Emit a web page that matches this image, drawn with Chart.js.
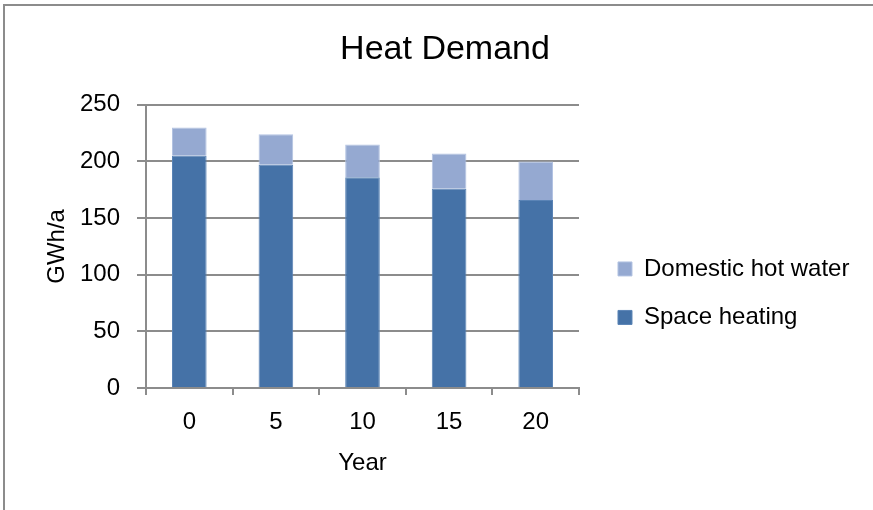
<!DOCTYPE html>
<html>
<head>
<meta charset="utf-8">
<script src="https://cdn.jsdelivr.net/npm/chart.js@4/dist/chart.umd.min.js"></script>
<style>
  html, body { margin: 0; padding: 0; background: #fff; }
  #wrap { position: relative; width: 873px; height: 510px; overflow: hidden; }
  #frame { position: absolute; left: 3px; top: 4px; width: 900px; height: 600px;
           border-left: 2px solid #8c8c8c; border-top: 2px solid #8c8c8c; }
  #c { position: absolute; left: 0; top: 0; }
</style>
</head>
<body>
<div id="wrap">
  <div id="frame"></div>
  <canvas id="c" width="873" height="510"></canvas>
</div>
<script>
// Heat demand by year (GWh/a)
const years = ['0', '5', '10', '15', '20'];
const spaceHeating = [205, 197, 186, 176, 166];
const hotWater = [25, 27, 29, 31, 34];
const yTicks = [0, 50, 100, 150, 200, 250];

const FONT = "'Liberation Sans', Arial, sans-serif";
const GRID = '#8c8c8c';

new Chart(document.getElementById('c'), {
  type: 'bar',
  data: {
    labels: years,
    datasets: [
      {
        label: 'Space heating',
        data: spaceHeating,
        backgroundColor: '#4572a7',
        borderColor: '#5b84b6',
        borderWidth: 1,
        barPercentage: 0.4,
        categoryPercentage: 1
      },
      {
        label: 'Domestic hot water',
        data: hotWater,
        backgroundColor: '#95a9d1',
        borderColor: '#b3c3e2',
        borderWidth: 1,
        barPercentage: 0.4,
        categoryPercentage: 1
      }
    ]
  },
  options: {
    responsive: false,
    animation: false,
    events: [],
    layout: { padding: { left: 30.6, right: 13.6, top: 0, bottom: 0 } },
    plugins: {
      title: {
        display: true,
        text: 'Heat Demand',
        color: '#000',
        font: { family: FONT, size: 34, weight: 'normal' },
        padding: { top: 29, bottom: 35 }
      },
      legend: {
        position: 'right',
        reverse: true,
        maxWidth: 400,
        title: { display: true, text: '', padding: { top: 62, bottom: 0 } },
        labels: {
          boxWidth: 14,
          boxHeight: 14,
          padding: 24.5,
          color: '#000',
          font: { family: FONT, size: 24 }
        }
      },
      tooltip: { enabled: false }
    },
    scales: {
      x: {
        stacked: true,
        grid: { display: true, drawOnChartArea: false, drawTicks: true, tickLength: 7, color: GRID, lineWidth: 2 },
        border: { display: true, color: GRID, width: 2 },
        ticks: { color: '#000', font: { family: FONT, size: 24 }, padding: 13 },
        title: { display: true, text: 'Year', color: '#000', font: { family: FONT, size: 24 }, padding: { top: 0, bottom: 32 } },
        afterFit(s) { s.height = 122; }
      },
      y: {
        stacked: true,
        min: 0,
        max: 250,
        afterBuildTicks(s) { s.ticks = yTicks.map(v => ({ value: v })); },
        grid: { color: GRID, lineWidth: 2, tickLength: 9 },
        border: { display: true, color: GRID, width: 2 },
        ticks: { color: '#000', font: { family: FONT, size: 24 }, padding: 17 },
        title: { display: true, text: 'GWh/a', color: '#000', font: { family: FONT, size: 24 }, padding: { top: 12, bottom: 0 } },
        afterFit(s) { s.width = 115.4; }
      },
      gap: {
        type: 'linear',
        position: 'right',
        display: true,
        grid: { display: false },
        border: { display: false },
        ticks: { display: false },
        afterFit(s) { s.width = 14.5; }
      }
    }
  }
});
</script>
</body>
</html>
